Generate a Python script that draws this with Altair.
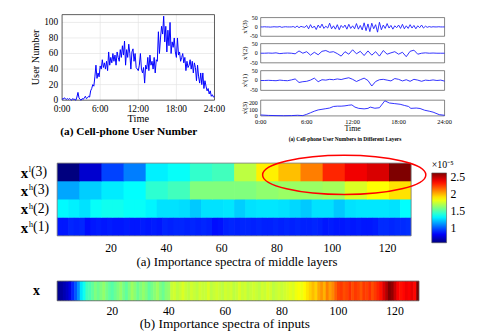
import altair as alt
import pandas as pd

W, H = 478, 323
SERIF = "Liberation Serif"
JET = ["#00007F", "#0000FF", "#007FFF", "#00FFFF", "#7FFF7F",
       "#FFFF00", "#FF7F00", "#FF0000", "#7F0000"]

# ---------------- data ----------------
# (a) cell-phone user number, one sample every 10 minutes
user_step_h = 1 / 6
user_counts = [
    2, 1, 3, 2, 1, 2,
    1, 2, 1, 0, 2, 1,
    1, 0, 4, 10, 3, 1,
    0, 2, 1, 3, 5, 2,
    3, 5, 4, 12, 15, 20,
    18, 30, 45, 28, 35, 30,
    44, 40, 52, 42, 48, 40,
    50, 38, 62, 45, 55, 48,
    60, 50, 58, 45, 62, 55,
    50, 65, 55, 70, 58, 76,
    45, 65, 55, 72, 60, 40,
    62, 66, 50, 60, 42, 40,
    38, 45, 60, 40, 35, 42,
    22, 45, 40, 55, 38, 58,
    45, 50, 40, 55, 35, 52,
    50, 88, 60, 80, 95, 85,
    108, 75, 95, 62, 90, 70,
    100, 60, 75, 68, 80, 62,
    55, 80, 58, 62, 50, 55,
    60, 48, 55, 38, 50, 42,
    45, 52, 40, 50, 35, 48,
    42, 25, 45, 30, 22, 35,
    20, 35, 15, 25, 18, 12,
    15, 8, 12, 5, 7, 4,
    5,
]
grid_hours = [6, 12, 18]
grid_users = [20, 40, 60, 80, 100]
user_ticks = [0, 20, 40, 60, 80, 100]
time_ticks = [0, 6, 12, 18, 24]
time_labels = ["0:00", "6:00", "12:00", "18:00", "24:00"]

# layer signals (right-hand figure, panels top to bottom)
p1_step_h = 0.25
p1_vals = [
    0, 0, 1, 0, 0, -1, 0, 1, 0, 0, 2, -2, 0, 1, 0, 0,
    0, 2, -3, 5, -4, 3, 0, -2,
    8, -10, 12, -6, 5, -14, 10, -5,
    15, -8, 4, -6, 20, -10, 6, -12,
    12, -15, 8, -4, 10, -12, 14, -8,
    6, -10, 18, -12, 8, -16, 22, -20,
    16, -25, 20, -10, 12, -28, 25, -15,
    10, -8, 18, -6, 8, -12, 6, -4,
    10, -8, 14, -10, 6, -8, 12, -6,
    8, -10, 6, -4, 10, -6, 4, -2,
    2, -1, 1, 0, 0, 1, 0, 0,
    0,
]
p2_step_h = 0.5
p2_vals = [0, 0, 1, 0, 2, -2, 0, 1, 0, -3,
           12, 0, 8, -10, 5, -8, 10, 14, 5, 8,
           -2, -15, 8, -5, 18, -3, 10, -12, 12, -10,
           8, -15, 14, -5, 2, 8, -5, 5, -18, 10,
           16, -5, 0, 2, 0, 1, 0, 0, 0]
p3_step_h = 0.5
p3_vals = [0, 0, 1, 0, -1, 2, 0, -1, 3, 8,
           -10, -6, -4, 2, 12, -6, 4, 2, 6, 4,
           8, 5, 10, 14, 6, -5, 4, 12, 0, -28,
           -5, 4, 6, 2, -2, 10, 6, -2, 4, -4,
           6, 2, -4, 2, 0, 3, 0, 2, -3]
p4_hours = [0, 1, 2, 3, 4, 4.8, 5.5, 6, 6.5, 7, 7.5, 8, 8.5, 9, 9.5, 10, 10.5,
            11, 11.5, 11.9, 12.3, 12.8, 13.5, 14, 14.3, 14.9, 15.5, 16.2, 16.8,
            17.5, 18.2, 18.8, 19.3, 19.6, 20.3, 20.8, 21.4, 22, 22.5, 23.3, 24]
p4_vals = [15, 8, 5, 3, 5, 10, 5, 25, 50, 75, 95, 105, 115, 125, 150, 155, 155,
           160, 170, 175, 140, 120, 112, 120, 140, 122, 130, 240, 205,
           195, 185, 165, 150, 120, 125, 118, 90, 75, 60, 20, 10]
detail_ticks = [-50, 0, 50]
approx_ticks = [0, 100, 200]
panel_titles = ["xʰ(3)", "xʰ(2)", "xʰ(1)", "xˡ(3)"]

# importance spectra of middle layers (x 1e-5), rows bottom to top
row_sups = ["ʰ(1)", "ʰ(2)", "ʰ(3)", "ˡ(3)"]
row_h1 = [0.86, 0.86, 0.89, 0.88, 0.89, 0.84,
          0.86, 0.87, 0.86, 0.87, 0.86, 0.86, 0.87, 0.86, 0.86, 0.87, 0.86, 0.87, 0.86,
          0.89, 0.88, 0.89, 0.89, 0.88, 0.89, 0.88, 0.89, 0.88,
          0.84, 0.85,
          0.88, 0.89, 0.88, 0.89, 0.89, 0.88, 0.89, 0.88, 0.88, 0.89, 0.88, 0.89,
          0.88, 0.89, 0.88, 0.88, 0.89, 0.88,
          0.86, 0.87, 0.86, 0.86, 0.87, 0.86, 0.87, 0.86, 0.86, 0.87,
          0.90, 0.90, 0.89, 0.90, 0.90, 0.91]
row_h2 = [1.32, 1.30, 1.27, 1.34, 1.36, 1.36, 1.34, 1.34, 1.31, 1.27,
          1.27, 1.26, 1.22, 1.27, 1.27, 1.28, 1.23, 1.27, 1.28, 1.28,
          1.27, 1.25, 1.22, 1.27, 1.27, 1.22, 1.27, 1.28, 1.28, 1.28,
          1.27, 1.33]
row_h3 = [1.15, 1.23, 1.29, 1.33, 1.42, 1.46, 1.59, 1.59,
          1.59, 1.62, 1.64, 1.64, 1.66, 1.77, 1.84, 1.90]
row_l3 = [0.56, 0.72, 0.95, 1.07, 1.30, 1.34, 1.43, 1.46,
          1.71, 1.87, 1.97, 2.10, 2.28, 2.38, 2.43, 2.61]
heat_min, heat_max = 0.56, 2.61
cbar_ticks = [1, 1.5, 2, 2.5]
spec_ticks = [20, 40, 60, 80, 100, 120]

# importance spectrum of inputs (normalised colour level)
input_vals = [
    .02, .03, .05, .07, .10, .16, .21, .27, .35, .39,
    .44, .45, .47, .50, .48, .50, .52, .49, .47, .46,
    .48, .50, .52, .49, .47, .50, .53, .51, .48, .50,
    .52, .50, .47, .49, .51, .53, .50, .48, .51, .52,
    .57, .58, .56, .57, .59, .57, .56, .58, .57, .56,
    .58, .57, .57, .59, .56, .57, .58, .57, .56, .58,
    .57, .58, .56, .57, .59, .57, .58, .56, .57, .58,
    .57, .56, .58, .57, .59, .58, .56, .57, .58, .57,
    .58, .59, .60, .59, .61, .62, .61, .63, .65, .67,
    .69, .67, .71, .73, .70, .75, .72, .74, .78, .81,
    .82, .80, .81, .83, .80, .82, .81, .79, .82, .81,
    .83, .80, .82, .84, .86, .91, .95, 1.0, .98, .93,
    .88, .86, .87, .89, .88, .90, .87, 1.0,
]

# ---------------- tables ----------------
one = pd.DataFrame({"k": [0]})
df_a = pd.DataFrame({"t": [i * user_step_h for i in range(len(user_counts))], "v": user_counts})

recs = []
for r, vals in enumerate([row_h1, row_h2, row_h3, row_l3]):
    w = 128 / len(vals)
    for i, v in enumerate(vals):
        recs.append({"x0": 0.5 + i * w,
                     "x1": 0.5 + (i + 1) * w + (0.25 if i < len(vals) - 1 else 0),
                     "r0": r, "r1": r + (1.03 if r < 3 else 1), "v": v})
df_heat = pd.DataFrame(recs)
df_in = pd.DataFrame({"x0": [0.5 + i for i in range(128)],
                      "x1": [1.5 + i + (0.2 if i < 127 else 0) for i in range(128)],
                      "v": input_vals})


def frame(x0, x1, y0, y1, color="#333333", sw=0.8):
    return alt.Chart(one).mark_rect(fillOpacity=0, stroke=color, strokeWidth=sw).encode(
        x=alt.XDatum(x0, axis=None), x2=alt.X2Datum(x1),
        y=alt.YDatum(y0, axis=None), y2=alt.Y2Datum(y1))


def xlabels(vals, labs, xs, ybase, dy, size):
    df = pd.DataFrame({"v": vals, "lab": labs})
    return alt.Chart(df).mark_text(font=SERIF, fontSize=size, color="black",
                                   baseline="middle", align="center", dy=dy).encode(
        x=alt.X("v:Q", scale=xs, axis=None), y=alt.YDatum(ybase, axis=None), text="lab:N")


def ylabels(vals, labs, ys, xbase, dx, size):
    df = pd.DataFrame({"v": vals, "lab": labs})
    return alt.Chart(df).mark_text(font=SERIF, fontSize=size, color="black",
                                   baseline="middle", align="right", dx=dx).encode(
        y=alt.Y("v:Q", scale=ys, axis=None), x=alt.XDatum(xbase, axis=None), text="lab:N")


def note(text, xv, yv, size, weight="normal", dx=0, dy=0, angle=0, align="center"):
    return alt.Chart(one).mark_text(text=text, font=SERIF, fontSize=size, fontWeight=weight,
                                    color="black", dx=dx, dy=dy, angle=angle, align=align,
                                    baseline="middle").encode(
        x=alt.XDatum(xv, axis=None), y=alt.YDatum(yv, axis=None))


# ---------------- (a) user number ----------------
xa = alt.Scale(domain=[0, 24], range=[55, 210], nice=False, zero=False)
ya = alt.Scale(domain=[0, 110], range=[91, 4], nice=False, zero=False)
grid_v = alt.Chart(pd.DataFrame({"g": grid_hours})).mark_rule(
    color="#e3e3e3", strokeWidth=0.7).encode(
    x=alt.X("g:Q", scale=xa, axis=None), y=alt.YDatum(0, axis=None), y2=alt.Y2Datum(110))
grid_h = alt.Chart(pd.DataFrame({"g": grid_users})).mark_rule(
    color="#e3e3e3", strokeWidth=0.7).encode(
    y=alt.Y("g:Q", scale=ya, axis=None), x=alt.XDatum(0, axis=None), x2=alt.X2Datum(24))
line_a = alt.Chart(df_a).mark_line(color="#0000ff", strokeWidth=1).encode(
    x=alt.X("t:Q", scale=xa, axis=None), y=alt.Y("v:Q", scale=ya, axis=None))
plot_a = alt.layer(
    grid_v, grid_h, frame(0, 24, 0, 110), line_a,
    xlabels(time_ticks, time_labels, xa, 0, 9.5, 9.5),
    ylabels(user_ticks, [str(v) for v in user_ticks], ya, 0, -4, 9.5),
    note("User Number", 0, 55, 10.5, dy=-26, angle=270),
    note("Time", 12, 0, 10.5, dy=19.5),
    note("(a)  Cell-phone User Number", 10.5, 0, 11.5, weight="bold", dy=32),
)


# ---------------- (b) layer panels ----------------
def panel(times, vals, yr, ydom, yticks, ytitle, bottom=False):
    xs = alt.Scale(domain=[0, 24], range=[257, 444], nice=False, zero=False)
    ys = alt.Scale(domain=ydom, range=yr, nice=False, zero=False)
    df = pd.DataFrame({"t": times, "v": vals})
    ln = alt.Chart(df).mark_line(color="#1a1aff", strokeWidth=0.9).encode(
        x=alt.X("t:Q", scale=xs, axis=None), y=alt.Y("v:Q", scale=ys, axis=None))
    layers = [frame(0, 24, ydom[0], ydom[1], sw=0.6), ln,
              ylabels(yticks, [str(v) for v in yticks], ys, 0, -3, 6),
              note(ytitle, 0, (ydom[0] + ydom[1]) / 2, 7, dy=-16, angle=270)]
    if bottom:
        layers += [
            xlabels(time_ticks, time_labels, xs, ydom[0], 6, 6.5),
            note("Time", 12, ydom[0], 8, dy=13.5),
            note("(a) Cell-phone User Numbers in Different Layers", 11.0, ydom[0], 5.5,
                 weight="bold", dy=24),
        ]
    return alt.layer(*layers)


b1 = panel([i * p1_step_h for i in range(len(p1_vals))], p1_vals, [26, 7], [-50, 50],
           detail_ticks, panel_titles[0])
b2 = panel([i * p2_step_h for i in range(len(p2_vals))], p2_vals, [53, 33.5], [-50, 50],
           detail_ticks, panel_titles[1])
b3 = panel([i * p3_step_h for i in range(len(p3_vals))], p3_vals, [81, 61], [-50, 50],
           detail_ticks, panel_titles[2])
b4 = panel(p4_hours, p4_vals, [107, 91], [0, 250], approx_ticks, panel_titles[3], bottom=True)

# ---------------- heatmap of middle layers ----------------
hx = alt.Scale(domain=[0.5, 128.5], range=[50, 410], nice=False, zero=False)
hy = alt.Scale(domain=[0, 4], range=[229, 155], nice=False, zero=False)
heat_dom = [heat_min + k * (heat_max - heat_min) / 8 for k in range(9)]
heat = alt.Chart(df_heat).mark_rect().encode(
    x=alt.X("x0:Q", scale=hx, axis=None), x2="x1:Q",
    y=alt.Y("r0:Q", scale=hy, axis=None), y2="r1:Q",
    color=alt.Color("v:Q", scale=alt.Scale(domain=heat_dom, range=JET, interpolate="rgb"),
                    legend=alt.Legend(orient="none", legendX=431, legendY=152,
                                      direction="vertical", gradientLength=71,
                                      gradientThickness=15, values=cbar_ticks,
                                      labelExpr="'' + datum.value",
                                      title="×10⁻⁵", titleFontSize=10, titleFontWeight="normal",
                                      titlePadding=3, labelFontSize=12, labelOffset=4,
                                      padding=0, gradientStrokeColor="#555",
                                      gradientStrokeWidth=0.6, labelOverlap=False)))
ELLIPSE = "M -1 0 A 1 0.24 0 1 1 1 0 A 1 0.24 0 1 1 -1 0 Z"
ellipse = alt.Chart(one).mark_point(shape=ELLIPSE, size=166 * 166, filled=False,
                                    color="#ff0000", strokeWidth=1.5, opacity=1).encode(
    x=alt.XDatum(104.3, axis=None), y=alt.YDatum(3.35, axis=None))
df_rows = pd.DataFrame({"r": [0.5, 1.5, 2.5, 3.5], "sup": row_sups})
row_x = alt.Chart(df_rows).mark_text(text="x", font=SERIF, fontSize=15, fontWeight="bold",
                                     color="black", align="left", baseline="middle",
                                     dx=-37, dy=1).encode(
    x=alt.XDatum(0.5, axis=None), y=alt.Y("r:Q", scale=hy, axis=None))
row_sup = alt.Chart(df_rows).mark_text(font=SERIF, fontSize=14, color="black",
                                       align="left", baseline="middle", dx=-29).encode(
    x=alt.XDatum(0.5, axis=None), y=alt.Y("r:Q", scale=hy, axis=None), text="sup:N")
plot_heat = alt.layer(
    heat, frame(0.5, 128.5, 0, 4, color="#777777", sw=0.8), ellipse, row_x, row_sup,
    xlabels(spec_ticks, [str(v) for v in spec_ticks], hx, 0, 12, 12),
    note("(a)  Importance spectra of middle layers", 65.5, 0, 13, dy=27),
)

# ---------------- input spectrum ----------------
ix = alt.Scale(domain=[0.5, 128.5], range=[50, 418], nice=False, zero=False)
iy = alt.Scale(domain=[0, 1], range=[295, 275], nice=False, zero=False)
inp = alt.Chart(df_in).mark_rect().encode(
    x=alt.X("x0:Q", scale=ix, axis=None), x2="x1:Q",
    y=alt.YDatum(0, scale=iy, axis=None), y2=alt.Y2Datum(1),
    color=alt.Color("v:Q", scale=alt.Scale(domain=[k / 8 for k in range(9)], range=JET,
                                           interpolate="rgb"), legend=None))
plot_in = alt.layer(
    inp, frame(0.5, 128.5, 0, 1, color="#555555", sw=0.8),
    xlabels(spec_ticks, [str(v) for v in spec_ticks], ix, 0, 10, 12),
    note("x", 0.5, 0.5, 14, weight="bold", dx=-21),
    note("(b) Importance spectra of inputs", 59.8, 0, 13.5, dy=24),
)

chart = alt.layer(plot_a, b1, b2, b3, b4, plot_heat, plot_in).resolve_scale(
    x="independent", y="independent", color="independent"
).properties(
    width=W, height=H, padding=0, background="white",
    autosize=alt.AutoSizeParams(type="none"),
).configure_view(strokeWidth=0).configure_legend(
    labelFont=SERIF, titleFont=SERIF, labelColor="black", titleColor="black",
)

chart.save("out.html", embed_options={"renderer": "svg", "actions": False})
